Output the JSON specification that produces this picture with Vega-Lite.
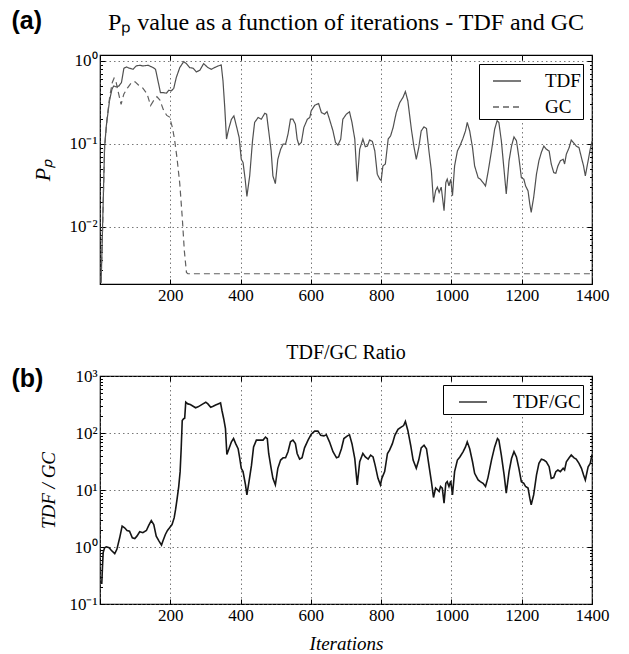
{
  "$schema": "https://vega.github.io/schema/vega-lite/v6.json",
  "background": "white",
  "padding": {"left": 10, "top": 8, "right": 5, "bottom": 2},
  "spacing": 38,
  "config": {
    "font": "Liberation Serif",
    "view": {"stroke": "black", "strokeWidth": 1.2},
    "axis": {
      "labelFont": "Liberation Serif", "labelFontSize": 17, "labelColor": "black",
      "titleFont": "Liberation Serif", "titleFontSize": 19, "titleFontStyle": "italic", "titleFontWeight": "normal", "titleColor": "black",
      "domain": false, "tickColor": "black", "tickWidth": 1,
      "gridColor": "#555", "gridDash": [1.5, 3], "gridWidth": 0.8,
      "labelOverlap": false, "labelFlush": false
    },
    "title": {"font": "Liberation Serif", "fontSize": 20, "fontWeight": "normal", "color": "black", "frame": "group"},
    "legend": {
      "orient": "top-right", "offset": 9, "strokeColor": "black", "fillColor": "white",
      "padding": 2, "cornerRadius": 0, "symbolType": "stroke", "symbolSize": 784,
      "symbolStrokeWidth": 1.3, "labelFont": "Liberation Serif", "labelFontSize": 19,
      "labelColor": "black", "labelOffset": 23, "rowPadding": 1, "symbolOffset": 11, "labelLimit": 300
    }
  },
  "resolve": {"scale": {"color": "independent", "strokeDash": "independent"}, "legend": {"color": "independent", "strokeDash": "independent"}},
  "vconcat": [
    {
      "width": 492, "height": 229,
      "title": {"text": "Pₚ value as a function of iterations - TDF and GC", "fontSize": 24, "offset": -26},
      "resolve": {"axis": {"x": "independent", "y": "independent"}},
      "layer": [
        {
          "data": {"values": [
            {"it":3,"v":0.0021,"s":"TDF"},{"it":5,"v":0.004,"s":"TDF"},{"it":8,"v":0.013,"s":"TDF"},{"it":13,"v":0.09,"s":"TDF"},{"it":18,"v":0.165,"s":"TDF"},{"it":27,"v":0.33,"s":"TDF"},{"it":34,"v":0.456,"s":"TDF"},{"it":39,"v":0.5,"s":"TDF"},{"it":46,"v":0.486,"s":"TDF"},{"it":54,"v":0.5,"s":"TDF"},{"it":61,"v":0.548,"s":"TDF"},{"it":68,"v":0.816,"s":"TDF"},{"it":75,"v":0.847,"s":"TDF"},{"it":84,"v":0.816,"s":"TDF"},{"it":94,"v":0.794,"s":"TDF"},{"it":103,"v":0.87,"s":"TDF"},{"it":113,"v":0.887,"s":"TDF"},{"it":122,"v":0.87,"s":"TDF"},{"it":137,"v":0.887,"s":"TDF"},{"it":151,"v":0.831,"s":"TDF"},{"it":158,"v":0.794,"s":"TDF"},{"it":165,"v":0.574,"s":"TDF"},{"it":172,"v":0.415,"s":"TDF"},{"it":179,"v":0.415,"s":"TDF"},{"it":189,"v":0.408,"s":"TDF"},{"it":196,"v":0.443,"s":"TDF"},{"it":203,"v":0.435,"s":"TDF"},{"it":210,"v":0.469,"s":"TDF"},{"it":217,"v":0.63,"s":"TDF"},{"it":227,"v":0.831,"s":"TDF"},{"it":238,"v":0.98,"s":"TDF"},{"it":246,"v":0.929,"s":"TDF"},{"it":255,"v":0.831,"s":"TDF"},{"it":265,"v":0.816,"s":"TDF"},{"it":274,"v":0.737,"s":"TDF"},{"it":284,"v":0.772,"s":"TDF"},{"it":295,"v":0.929,"s":"TDF"},{"it":307,"v":0.831,"s":"TDF"},{"it":317,"v":0.794,"s":"TDF"},{"it":326,"v":0.831,"s":"TDF"},{"it":336,"v":0.87,"s":"TDF"},{"it":345,"v":0.895,"s":"TDF"},{"it":350,"v":0.574,"s":"TDF"},{"it":355,"v":0.274,"s":"TDF"},{"it":360,"v":0.114,"s":"TDF"},{"it":366,"v":0.15,"s":"TDF"},{"it":374,"v":0.198,"s":"TDF"},{"it":381,"v":0.217,"s":"TDF"},{"it":388,"v":0.165,"s":"TDF"},{"it":396,"v":0.119,"s":"TDF"},{"it":402,"v":0.065,"s":"TDF"},{"it":407,"v":0.0596,"s":"TDF"},{"it":413,"v":0.0375,"s":"TDF"},{"it":418,"v":0.0232,"s":"TDF"},{"it":426,"v":0.0411,"s":"TDF"},{"it":434,"v":0.1087,"s":"TDF"},{"it":440,"v":0.181,"s":"TDF"},{"it":450,"v":0.208,"s":"TDF"},{"it":459,"v":0.198,"s":"TDF"},{"it":469,"v":0.234,"s":"TDF"},{"it":474,"v":0.228,"s":"TDF"},{"it":480,"v":0.143,"s":"TDF"},{"it":487,"v":0.082,"s":"TDF"},{"it":492,"v":0.041,"s":"TDF"},{"it":499,"v":0.033,"s":"TDF"},{"it":506,"v":0.065,"s":"TDF"},{"it":514,"v":0.086,"s":"TDF"},{"it":521,"v":0.099,"s":"TDF"},{"it":528,"v":0.099,"s":"TDF"},{"it":535,"v":0.131,"s":"TDF"},{"it":542,"v":0.198,"s":"TDF"},{"it":549,"v":0.198,"s":"TDF"},{"it":556,"v":0.172,"s":"TDF"},{"it":561,"v":0.114,"s":"TDF"},{"it":566,"v":0.097,"s":"TDF"},{"it":573,"v":0.104,"s":"TDF"},{"it":580,"v":0.157,"s":"TDF"},{"it":590,"v":0.198,"s":"TDF"},{"it":597,"v":0.208,"s":"TDF"},{"it":601,"v":0.25,"s":"TDF"},{"it":611,"v":0.292,"s":"TDF"},{"it":622,"v":0.306,"s":"TDF"},{"it":630,"v":0.238,"s":"TDF"},{"it":639,"v":0.228,"s":"TDF"},{"it":646,"v":0.245,"s":"TDF"},{"it":653,"v":0.198,"s":"TDF"},{"it":663,"v":0.143,"s":"TDF"},{"it":670,"v":0.104,"s":"TDF"},{"it":677,"v":0.096,"s":"TDF"},{"it":685,"v":0.114,"s":"TDF"},{"it":691,"v":0.198,"s":"TDF"},{"it":701,"v":0.228,"s":"TDF"},{"it":710,"v":0.243,"s":"TDF"},{"it":717,"v":0.181,"s":"TDF"},{"it":725,"v":0.114,"s":"TDF"},{"it":732,"v":0.035,"s":"TDF"},{"it":739,"v":0.086,"s":"TDF"},{"it":748,"v":0.114,"s":"TDF"},{"it":755,"v":0.092,"s":"TDF"},{"it":761,"v":0.094,"s":"TDF"},{"it":767,"v":0.111,"s":"TDF"},{"it":775,"v":0.107,"s":"TDF"},{"it":782,"v":0.082,"s":"TDF"},{"it":789,"v":0.043,"s":"TDF"},{"it":796,"v":0.0375,"s":"TDF"},{"it":800,"v":0.036,"s":"TDF"},{"it":805,"v":0.054,"s":"TDF"},{"it":812,"v":0.057,"s":"TDF"},{"it":820,"v":0.114,"s":"TDF"},{"it":827,"v":0.125,"s":"TDF"},{"it":834,"v":0.157,"s":"TDF"},{"it":843,"v":0.238,"s":"TDF"},{"it":853,"v":0.315,"s":"TDF"},{"it":862,"v":0.362,"s":"TDF"},{"it":869,"v":0.427,"s":"TDF"},{"it":876,"v":0.33,"s":"TDF"},{"it":886,"v":0.15,"s":"TDF"},{"it":893,"v":0.094,"s":"TDF"},{"it":900,"v":0.065,"s":"TDF"},{"it":907,"v":0.09,"s":"TDF"},{"it":914,"v":0.143,"s":"TDF"},{"it":922,"v":0.16,"s":"TDF"},{"it":929,"v":0.153,"s":"TDF"},{"it":936,"v":0.082,"s":"TDF"},{"it":943,"v":0.047,"s":"TDF"},{"it":949,"v":0.0196,"s":"TDF"},{"it":955,"v":0.0271,"s":"TDF"},{"it":960,"v":0.03,"s":"TDF"},{"it":965,"v":0.0259,"s":"TDF"},{"it":971,"v":0.03,"s":"TDF"},{"it":979,"v":0.0156,"s":"TDF"},{"it":984,"v":0.034,"s":"TDF"},{"it":988,"v":0.0375,"s":"TDF"},{"it":993,"v":0.031,"s":"TDF"},{"it":998,"v":0.0375,"s":"TDF"},{"it":1003,"v":0.0236,"s":"TDF"},{"it":1009,"v":0.054,"s":"TDF"},{"it":1017,"v":0.082,"s":"TDF"},{"it":1024,"v":0.094,"s":"TDF"},{"it":1033,"v":0.117,"s":"TDF"},{"it":1040,"v":0.143,"s":"TDF"},{"it":1045,"v":0.181,"s":"TDF"},{"it":1052,"v":0.143,"s":"TDF"},{"it":1060,"v":0.09,"s":"TDF"},{"it":1066,"v":0.054,"s":"TDF"},{"it":1076,"v":0.039,"s":"TDF"},{"it":1082,"v":0.0375,"s":"TDF"},{"it":1090,"v":0.034,"s":"TDF"},{"it":1097,"v":0.031,"s":"TDF"},{"it":1104,"v":0.045,"s":"TDF"},{"it":1114,"v":0.082,"s":"TDF"},{"it":1123,"v":0.15,"s":"TDF"},{"it":1130,"v":0.19,"s":"TDF"},{"it":1135,"v":0.181,"s":"TDF"},{"it":1142,"v":0.109,"s":"TDF"},{"it":1150,"v":0.047,"s":"TDF"},{"it":1156,"v":0.0248,"s":"TDF"},{"it":1164,"v":0.0625,"s":"TDF"},{"it":1171,"v":0.094,"s":"TDF"},{"it":1178,"v":0.121,"s":"TDF"},{"it":1185,"v":0.109,"s":"TDF"},{"it":1192,"v":0.068,"s":"TDF"},{"it":1199,"v":0.039,"s":"TDF"},{"it":1206,"v":0.0375,"s":"TDF"},{"it":1211,"v":0.031,"s":"TDF"},{"it":1218,"v":0.027,"s":"TDF"},{"it":1223,"v":0.0187,"s":"TDF"},{"it":1227,"v":0.0149,"s":"TDF"},{"it":1234,"v":0.0225,"s":"TDF"},{"it":1242,"v":0.043,"s":"TDF"},{"it":1249,"v":0.0625,"s":"TDF"},{"it":1256,"v":0.079,"s":"TDF"},{"it":1263,"v":0.094,"s":"TDF"},{"it":1270,"v":0.086,"s":"TDF"},{"it":1278,"v":0.082,"s":"TDF"},{"it":1284,"v":0.057,"s":"TDF"},{"it":1291,"v":0.045,"s":"TDF"},{"it":1297,"v":0.044,"s":"TDF"},{"it":1303,"v":0.054,"s":"TDF"},{"it":1310,"v":0.0625,"s":"TDF"},{"it":1318,"v":0.065,"s":"TDF"},{"it":1322,"v":0.057,"s":"TDF"},{"it":1327,"v":0.075,"s":"TDF"},{"it":1335,"v":0.09,"s":"TDF"},{"it":1341,"v":0.111,"s":"TDF"},{"it":1349,"v":0.101,"s":"TDF"},{"it":1355,"v":0.094,"s":"TDF"},{"it":1363,"v":0.09,"s":"TDF"},{"it":1370,"v":0.068,"s":"TDF"},{"it":1376,"v":0.054,"s":"TDF"},{"it":1381,"v":0.041,"s":"TDF"},{"it":1389,"v":0.0625,"s":"TDF"},{"it":1395,"v":0.086,"s":"TDF"},{"it":1400,"v":0.107,"s":"TDF"},
            {"it":3,"v":0.0021,"s":"GC"},{"it":8,"v":0.012,"s":"GC"},{"it":13,"v":0.09,"s":"GC"},{"it":20,"v":0.2,"s":"GC"},{"it":28,"v":0.38,"s":"GC"},{"it":35,"v":0.55,"s":"GC"},{"it":40,"v":0.62,"s":"GC"},{"it":46,"v":0.55,"s":"GC"},{"it":52,"v":0.42,"s":"GC"},{"it":60,"v":0.3,"s":"GC"},{"it":68,"v":0.4,"s":"GC"},{"it":78,"v":0.47,"s":"GC"},{"it":90,"v":0.55,"s":"GC"},{"it":100,"v":0.56,"s":"GC"},{"it":110,"v":0.51,"s":"GC"},{"it":122,"v":0.47,"s":"GC"},{"it":134,"v":0.4,"s":"GC"},{"it":144,"v":0.29,"s":"GC"},{"it":152,"v":0.33,"s":"GC"},{"it":162,"v":0.37,"s":"GC"},{"it":170,"v":0.34,"s":"GC"},{"it":180,"v":0.26,"s":"GC"},{"it":190,"v":0.22,"s":"GC"},{"it":198,"v":0.21,"s":"GC"},{"it":206,"v":0.157,"s":"GC"},{"it":212,"v":0.114,"s":"GC"},{"it":219,"v":0.068,"s":"GC"},{"it":227,"v":0.033,"s":"GC"},{"it":234,"v":0.013,"s":"GC"},{"it":240,"v":0.0051,"s":"GC"},{"it":246,"v":0.0028,"s":"GC"},{"it":250,"v":0.0027,"s":"GC"},{"it":1400,"v":0.0027,"s":"GC"}
          ]},
          "mark": {"type": "line", "strokeWidth": 1.2, "clip": true},
          "encoding": {
            "x": {"field": "it", "type": "quantitative", "scale": {"domain": [0, 1400], "nice": false, "zero": false},
                  "axis": {"orient": "bottom", "values": [0,200,400,600,800,1000,1200,1400], "labelExpr": "datum.value == 0 ? '' : datum.label", "format": "d", "title": null, "tickSize": -5, "labelPadding": 8, "grid": true}},
            "y": {"field": "v", "type": "quantitative", "scale": {"type": "log", "domain": [0.00203, 1.18], "nice": false},
                  "axis": {"orient": "left", "values": [0.003,0.004,0.005,0.006,0.007,0.008,0.009,0.01,0.02,0.03,0.04,0.05,0.06,0.07,0.08,0.09,0.1,0.2,0.3,0.4,0.5,0.6,0.7,0.8,0.9,1],
                           "labelExpr": "abs(datum.value-1)<1e-6 ? '10⁰' : abs(datum.value-0.1)<1e-7 ? '10⁻¹' : abs(datum.value-0.01)<1e-8 ? '10⁻²' : ''",
                           "title": "Pₚ", "titleFontSize": 22, "titlePadding": 14, "labelPadding": 8,
                           "tickSize": {"condition": {"test": "abs(log(datum.value)/LN10 - round(log(datum.value)/LN10)) < 0.001", "value": -5}, "value": -2.5},
                           "grid": true,
                           "gridOpacity": {"condition": {"test": "abs(log(datum.value)/LN10 - round(log(datum.value)/LN10)) < 0.001", "value": 1}, "value": 0}}},
            "color": {"field": "s", "type": "nominal", "scale": {"domain": ["TDF", "GC"], "range": ["#505050", "#606060"]}, "legend": {"title": null}},
            "strokeDash": {"field": "s", "type": "nominal", "scale": {"domain": ["TDF", "GC"], "range": [[1, 0], [6, 4]]}, "legend": {"title": null}}
          }
        },
        {
          "data": {"values": [{"label": "(a)"}]},
          "mark": {"type": "text", "font": "Liberation Sans", "fontWeight": "bold", "fontSize": 25, "align": "left", "baseline": "middle", "color": "black"},
          "encoding": {
            "x": {"datum": -252, "type": "quantitative", "scale": {"domain": [0, 1400], "nice": false, "zero": false},
                  "axis": {"orient": "top", "values": [0,200,400,600,800,1000,1200,1400], "labels": false, "title": null, "tickSize": -5, "grid": false}},
            "y": {"datum": 3.0, "type": "quantitative", "scale": {"type": "log", "domain": [0.00203, 1.18], "nice": false},
                  "axis": {"orient": "right", "values": [0.003,0.004,0.005,0.006,0.007,0.008,0.009,0.01,0.02,0.03,0.04,0.05,0.06,0.07,0.08,0.09,0.1,0.2,0.3,0.4,0.5,0.6,0.7,0.8,0.9,1],
                           "labels": false, "title": null, "grid": false,
                           "tickSize": {"condition": {"test": "abs(log(datum.value)/LN10 - round(log(datum.value)/LN10)) < 0.001", "value": -5}, "value": -2.5}}},
            "text": {"field": "label"}
          }
        }
      ]
    },
    {
      "width": 492, "height": 228,
      "title": {"text": "TDF/GC Ratio", "offset": 4},
      "resolve": {"axis": {"x": "independent", "y": "independent"}},
      "layer": [
        {
          "data": {"values": [
            {"it":5,"v":0.224,"s":"TDF/GC"},{"it":7,"v":0.44,"s":"TDF/GC"},{"it":9,"v":0.797,"s":"TDF/GC"},{"it":13,"v":0.97,"s":"TDF/GC"},{"it":18,"v":1.01,"s":"TDF/GC"},{"it":26,"v":0.97,"s":"TDF/GC"},{"it":32,"v":0.875,"s":"TDF/GC"},{"it":42,"v":0.766,"s":"TDF/GC"},{"it":48,"v":0.91,"s":"TDF/GC"},{"it":56,"v":1.45,"s":"TDF/GC"},{"it":63,"v":2.32,"s":"TDF/GC"},{"it":70,"v":2.17,"s":"TDF/GC"},{"it":77,"v":1.95,"s":"TDF/GC"},{"it":84,"v":1.9,"s":"TDF/GC"},{"it":92,"v":1.45,"s":"TDF/GC"},{"it":99,"v":1.41,"s":"TDF/GC"},{"it":105,"v":1.55,"s":"TDF/GC"},{"it":113,"v":1.85,"s":"TDF/GC"},{"it":122,"v":1.78,"s":"TDF/GC"},{"it":132,"v":1.95,"s":"TDF/GC"},{"it":139,"v":2.41,"s":"TDF/GC"},{"it":146,"v":2.91,"s":"TDF/GC"},{"it":153,"v":2.48,"s":"TDF/GC"},{"it":160,"v":1.55,"s":"TDF/GC"},{"it":168,"v":1.27,"s":"TDF/GC"},{"it":175,"v":1.08,"s":"TDF/GC"},{"it":179,"v":1.27,"s":"TDF/GC"},{"it":186,"v":1.66,"s":"TDF/GC"},{"it":192,"v":1.95,"s":"TDF/GC"},{"it":198,"v":2.17,"s":"TDF/GC"},{"it":205,"v":2.48,"s":"TDF/GC"},{"it":211,"v":3.24,"s":"TDF/GC"},{"it":215,"v":4.52,"s":"TDF/GC"},{"it":219,"v":6.74,"s":"TDF/GC"},{"it":224,"v":11.5,"s":"TDF/GC"},{"it":228,"v":21,"s":"TDF/GC"},{"it":231,"v":53,"s":"TDF/GC"},{"it":234,"v":166,"s":"TDF/GC"},{"it":238,"v":178,"s":"TDF/GC"},{"it":241,"v":182,"s":"TDF/GC"},{"it":244,"v":347,"s":"TDF/GC"},{"it":250,"v":324,"s":"TDF/GC"},{"it":257,"v":316,"s":"TDF/GC"},{"it":265,"v":295,"s":"TDF/GC"},{"it":272,"v":277,"s":"TDF/GC"},{"it":279,"v":288,"s":"TDF/GC"},{"it":286,"v":306,"s":"TDF/GC"},{"it":293,"v":324,"s":"TDF/GC"},{"it":301,"v":347,"s":"TDF/GC"},{"it":307,"v":324,"s":"TDF/GC"},{"it":315,"v":282,"s":"TDF/GC"},{"it":322,"v":295,"s":"TDF/GC"},{"it":329,"v":310,"s":"TDF/GC"},{"it":336,"v":324,"s":"TDF/GC"},{"it":343,"v":337,"s":"TDF/GC"},{"it":347,"v":248,"s":"TDF/GC"},{"it":352,"v":178,"s":"TDF/GC"},{"it":357,"v":119,"s":"TDF/GC"},{"it":361,"v":42,"s":"TDF/GC"},{"it":367,"v":53,"s":"TDF/GC"},{"it":374,"v":70,"s":"TDF/GC"},{"it":380,"v":80,"s":"TDF/GC"},{"it":386,"v":65,"s":"TDF/GC"},{"it":393,"v":53,"s":"TDF/GC"},{"it":397,"v":38,"s":"TDF/GC"},{"it":402,"v":24,"s":"TDF/GC"},{"it":407,"v":21,"s":"TDF/GC"},{"it":414,"v":12.3,"s":"TDF/GC"},{"it":418,"v":8.24,"s":"TDF/GC"},{"it":424,"v":14,"s":"TDF/GC"},{"it":431,"v":27,"s":"TDF/GC"},{"it":437,"v":57,"s":"TDF/GC"},{"it":445,"v":75,"s":"TDF/GC"},{"it":454,"v":75,"s":"TDF/GC"},{"it":464,"v":75,"s":"TDF/GC"},{"it":471,"v":85,"s":"TDF/GC"},{"it":476,"v":80,"s":"TDF/GC"},{"it":480,"v":43.7,"s":"TDF/GC"},{"it":487,"v":24,"s":"TDF/GC"},{"it":492,"v":16,"s":"TDF/GC"},{"it":499,"v":12.3,"s":"TDF/GC"},{"it":506,"v":24,"s":"TDF/GC"},{"it":514,"v":33.5,"s":"TDF/GC"},{"it":521,"v":36.7,"s":"TDF/GC"},{"it":528,"v":36.7,"s":"TDF/GC"},{"it":535,"v":46.8,"s":"TDF/GC"},{"it":542,"v":70,"s":"TDF/GC"},{"it":549,"v":75,"s":"TDF/GC"},{"it":556,"v":65,"s":"TDF/GC"},{"it":561,"v":43.7,"s":"TDF/GC"},{"it":568,"v":34.8,"s":"TDF/GC"},{"it":575,"v":36.7,"s":"TDF/GC"},{"it":582,"v":55,"s":"TDF/GC"},{"it":592,"v":75,"s":"TDF/GC"},{"it":601,"v":95,"s":"TDF/GC"},{"it":611,"v":108,"s":"TDF/GC"},{"it":620,"v":108,"s":"TDF/GC"},{"it":628,"v":91,"s":"TDF/GC"},{"it":637,"v":89,"s":"TDF/GC"},{"it":644,"v":93,"s":"TDF/GC"},{"it":653,"v":70,"s":"TDF/GC"},{"it":663,"v":47,"s":"TDF/GC"},{"it":673,"v":36.7,"s":"TDF/GC"},{"it":679,"v":38,"s":"TDF/GC"},{"it":687,"v":53,"s":"TDF/GC"},{"it":694,"v":80,"s":"TDF/GC"},{"it":704,"v":89,"s":"TDF/GC"},{"it":710,"v":93,"s":"TDF/GC"},{"it":717,"v":65,"s":"TDF/GC"},{"it":725,"v":35.6,"s":"TDF/GC"},{"it":732,"v":12.3,"s":"TDF/GC"},{"it":739,"v":31.3,"s":"TDF/GC"},{"it":748,"v":43.7,"s":"TDF/GC"},{"it":755,"v":38,"s":"TDF/GC"},{"it":763,"v":34.8,"s":"TDF/GC"},{"it":770,"v":41,"s":"TDF/GC"},{"it":777,"v":38,"s":"TDF/GC"},{"it":783,"v":27,"s":"TDF/GC"},{"it":791,"v":16,"s":"TDF/GC"},{"it":798,"v":12.3,"s":"TDF/GC"},{"it":802,"v":16,"s":"TDF/GC"},{"it":810,"v":21,"s":"TDF/GC"},{"it":818,"v":43.7,"s":"TDF/GC"},{"it":824,"v":50,"s":"TDF/GC"},{"it":832,"v":65,"s":"TDF/GC"},{"it":839,"v":91,"s":"TDF/GC"},{"it":848,"v":116,"s":"TDF/GC"},{"it":857,"v":127,"s":"TDF/GC"},{"it":864,"v":135,"s":"TDF/GC"},{"it":869,"v":159,"s":"TDF/GC"},{"it":876,"v":111,"s":"TDF/GC"},{"it":884,"v":61,"s":"TDF/GC"},{"it":891,"v":33.5,"s":"TDF/GC"},{"it":900,"v":24,"s":"TDF/GC"},{"it":907,"v":33.5,"s":"TDF/GC"},{"it":914,"v":55,"s":"TDF/GC"},{"it":922,"v":61,"s":"TDF/GC"},{"it":929,"v":53,"s":"TDF/GC"},{"it":936,"v":27,"s":"TDF/GC"},{"it":943,"v":14,"s":"TDF/GC"},{"it":949,"v":7.4,"s":"TDF/GC"},{"it":955,"v":10.8,"s":"TDF/GC"},{"it":960,"v":10.1,"s":"TDF/GC"},{"it":965,"v":9.4,"s":"TDF/GC"},{"it":969,"v":11.5,"s":"TDF/GC"},{"it":974,"v":10.8,"s":"TDF/GC"},{"it":979,"v":5.9,"s":"TDF/GC"},{"it":984,"v":13.1,"s":"TDF/GC"},{"it":988,"v":14,"s":"TDF/GC"},{"it":993,"v":11.5,"s":"TDF/GC"},{"it":998,"v":14.4,"s":"TDF/GC"},{"it":1003,"v":8.2,"s":"TDF/GC"},{"it":1009,"v":21,"s":"TDF/GC"},{"it":1017,"v":33.5,"s":"TDF/GC"},{"it":1024,"v":38,"s":"TDF/GC"},{"it":1033,"v":46.8,"s":"TDF/GC"},{"it":1040,"v":57,"s":"TDF/GC"},{"it":1045,"v":70,"s":"TDF/GC"},{"it":1052,"v":53,"s":"TDF/GC"},{"it":1060,"v":31.3,"s":"TDF/GC"},{"it":1066,"v":19.6,"s":"TDF/GC"},{"it":1076,"v":15,"s":"TDF/GC"},{"it":1082,"v":14,"s":"TDF/GC"},{"it":1090,"v":13.1,"s":"TDF/GC"},{"it":1097,"v":11.5,"s":"TDF/GC"},{"it":1104,"v":16.5,"s":"TDF/GC"},{"it":1114,"v":33.5,"s":"TDF/GC"},{"it":1123,"v":57,"s":"TDF/GC"},{"it":1131,"v":80,"s":"TDF/GC"},{"it":1135,"v":75,"s":"TDF/GC"},{"it":1142,"v":41,"s":"TDF/GC"},{"it":1150,"v":18.3,"s":"TDF/GC"},{"it":1156,"v":8.8,"s":"TDF/GC"},{"it":1164,"v":21,"s":"TDF/GC"},{"it":1171,"v":35.6,"s":"TDF/GC"},{"it":1178,"v":47,"s":"TDF/GC"},{"it":1185,"v":38,"s":"TDF/GC"},{"it":1192,"v":24,"s":"TDF/GC"},{"it":1199,"v":14,"s":"TDF/GC"},{"it":1206,"v":13.1,"s":"TDF/GC"},{"it":1211,"v":11.5,"s":"TDF/GC"},{"it":1218,"v":10.8,"s":"TDF/GC"},{"it":1223,"v":7.2,"s":"TDF/GC"},{"it":1227,"v":5.5,"s":"TDF/GC"},{"it":1234,"v":8.2,"s":"TDF/GC"},{"it":1242,"v":18.3,"s":"TDF/GC"},{"it":1249,"v":29.3,"s":"TDF/GC"},{"it":1256,"v":34.8,"s":"TDF/GC"},{"it":1263,"v":33.5,"s":"TDF/GC"},{"it":1270,"v":31.3,"s":"TDF/GC"},{"it":1278,"v":25.6,"s":"TDF/GC"},{"it":1284,"v":16,"s":"TDF/GC"},{"it":1291,"v":16.5,"s":"TDF/GC"},{"it":1297,"v":21,"s":"TDF/GC"},{"it":1303,"v":22.4,"s":"TDF/GC"},{"it":1310,"v":21,"s":"TDF/GC"},{"it":1318,"v":24,"s":"TDF/GC"},{"it":1322,"v":22.4,"s":"TDF/GC"},{"it":1327,"v":31.3,"s":"TDF/GC"},{"it":1335,"v":36.7,"s":"TDF/GC"},{"it":1341,"v":41,"s":"TDF/GC"},{"it":1349,"v":36.7,"s":"TDF/GC"},{"it":1355,"v":34.8,"s":"TDF/GC"},{"it":1363,"v":29.3,"s":"TDF/GC"},{"it":1370,"v":24,"s":"TDF/GC"},{"it":1376,"v":18.3,"s":"TDF/GC"},{"it":1381,"v":15,"s":"TDF/GC"},{"it":1389,"v":25.6,"s":"TDF/GC"},{"it":1395,"v":29.3,"s":"TDF/GC"},{"it":1400,"v":42,"s":"TDF/GC"}
          ]},
          "mark": {"type": "line", "strokeWidth": 1.6, "clip": true},
          "encoding": {
            "x": {"field": "it", "type": "quantitative", "scale": {"domain": [0, 1400], "nice": false, "zero": false},
                  "axis": {"orient": "bottom", "values": [0,200,400,600,800,1000,1200,1400], "labelExpr": "datum.value == 0 ? '' : datum.label", "format": "d", "title": "Iterations", "titlePadding": 11, "tickSize": -5, "labelPadding": 8, "grid": true}},
            "y": {"field": "v", "type": "quantitative", "scale": {"type": "log", "domain": [0.1, 1000], "nice": false},
                  "axis": {"orient": "left", "values": [0.1,0.2,0.3,0.4,0.5,0.6,0.7,0.8,0.9,1,2,3,4,5,6,7,8,9,10,20,30,40,50,60,70,80,90,100,200,300,400,500,600,700,800,900,1000],
                           "labelExpr": "abs(datum.value-1000)<1e-3 ? '10³' : abs(datum.value-100)<1e-4 ? '10²' : abs(datum.value-10)<1e-5 ? '10¹' : abs(datum.value-1)<1e-6 ? '10⁰' : abs(datum.value-0.1)<1e-7 ? '10⁻¹' : ''",
                           "title": "TDF / GC", "titlePadding": 10, "labelPadding": 8,
                           "tickSize": {"condition": {"test": "abs(log(datum.value)/LN10 - round(log(datum.value)/LN10)) < 0.001", "value": -5}, "value": -2.5},
                           "grid": true,
                           "gridOpacity": {"condition": {"test": "abs(log(datum.value)/LN10 - round(log(datum.value)/LN10)) < 0.001", "value": 1}, "value": 0}}},
            "color": {"field": "s", "type": "nominal", "scale": {"domain": ["TDF/GC"], "range": ["#151515"]}, "legend": {"title": null, "labelOffset": 25, "symbolOffset": 13}}
          }
        },
        {
          "data": {"values": [{"label": "(b)"}]},
          "mark": {"type": "text", "font": "Liberation Sans", "fontWeight": "bold", "fontSize": 25, "align": "left", "baseline": "middle", "color": "black"},
          "encoding": {
            "x": {"datum": -252, "type": "quantitative", "scale": {"domain": [0, 1400], "nice": false, "zero": false},
                  "axis": {"orient": "top", "values": [0,200,400,600,800,1000,1200,1400], "labels": false, "title": null, "tickSize": -5, "grid": false}},
            "y": {"datum": 870, "type": "quantitative", "scale": {"type": "log", "domain": [0.1, 1000], "nice": false},
                  "axis": {"orient": "right", "values": [0.1,0.2,0.3,0.4,0.5,0.6,0.7,0.8,0.9,1,2,3,4,5,6,7,8,9,10,20,30,40,50,60,70,80,90,100,200,300,400,500,600,700,800,900,1000],
                           "labels": false, "title": null, "grid": false,
                           "tickSize": {"condition": {"test": "abs(log(datum.value)/LN10 - round(log(datum.value)/LN10)) < 0.001", "value": -5}, "value": -2.5}}},
            "text": {"field": "label"}
          }
        }
      ]
    }
  ]
}
